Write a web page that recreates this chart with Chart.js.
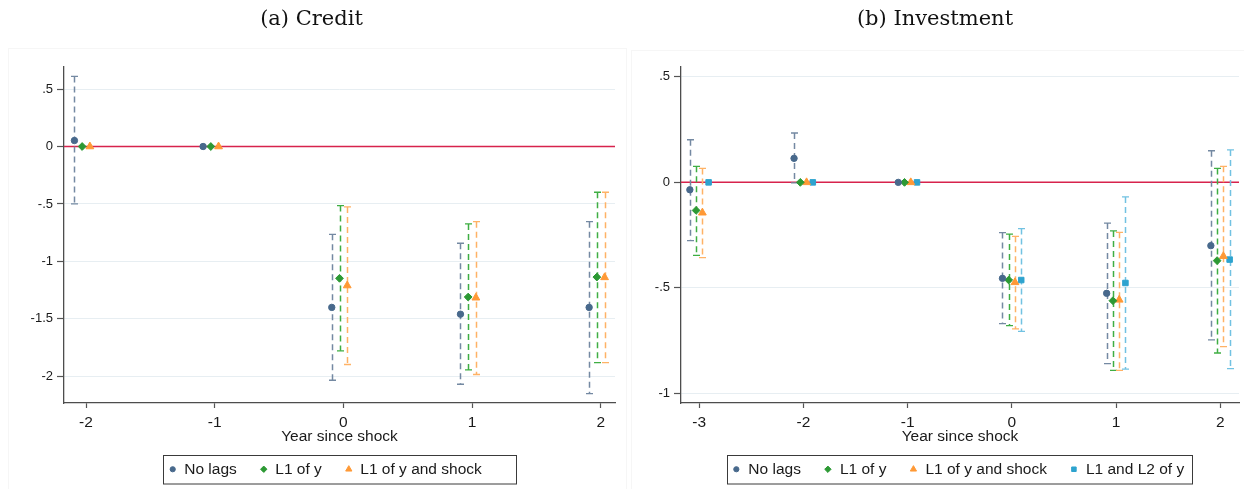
<!DOCTYPE html>
<html>
<head>
<meta charset="utf-8">
<title>Credit and investment responses</title>
<script src="https://cdn.jsdelivr.net/npm/chart.js@4.4.0/dist/chart.umd.min.js"></script>
<style>
  html, body { margin: 0; padding: 0; background: #fff; overflow: hidden; }
  body { width: 1244px; height: 489px; position: relative; }
  .frame { position: absolute; border: 1px solid #f6f6f6; border-bottom: none; }
  canvas { position: absolute; top: 0; }
</style>
</head>
<body>
<div class="frame" style="left:8px; top:48px; width:617px; height:445px;"></div>
<div class="frame" style="left:631px; top:50px; width:620px; height:445px;"></div>
<canvas id="credit-chart" width="619" height="489" style="left:8px"></canvas>
<canvas id="investment-chart" width="624" height="489" style="left:631px"></canvas>
<script>
// Years since shock
const creditYears = [-2, -1, 0, 1, 2];
const investYears = [-3, -2, -1, 0, 1, 2];

// Tick values / labels
const creditXTicks = [-2, -1, 0, 1, 2];
const creditYTicks = [0.5, 0, -0.5, -1, -1.5, -2];
const creditYTickLabels = ['.5', '0', '-.5', '-1', '-1.5', '-2'];
const investXTicks = [-3, -2, -1, 0, 1, 2];
const investYTicks = [0.5, 0, -0.5, -1];
const investYTickLabels = ['.5', '0', '-.5', '-1'];

const seriesNames = ['No lags', 'L1 of y', 'L1 of y and shock', 'L1 and L2 of y'];

// (a) Credit - point estimates and 95% bands
const creditNoLags      = [0.052, 0, -1.40, -1.459, -1.40];
const creditNoLagsLow   = [-0.50, null, -2.034, -2.069, -2.15];
const creditNoLagsHigh  = [0.61, null, -0.764, -0.842, -0.654];
const creditL1y         = [0, 0, -1.147, -1.31, -1.136];
const creditL1yLow      = [null, null, -1.778, -1.944, -1.88];
const creditL1yHigh     = [null, null, -0.514, -0.674, -0.398];
const creditL1yShock     = [0, 0, -1.21, -1.316, -1.139];
const creditL1yShockLow  = [null, null, -1.897, -1.984, -1.88];
const creditL1yShockHigh = [null, null, -0.526, -0.654, -0.398];

// (b) Investment
const investNoLags      = [-0.035, 0.114, 0, -0.455, -0.526, -0.30];
const investNoLagsLow   = [-0.276, -0.002, null, -0.67, -0.859, -0.747];
const investNoLagsHigh  = [0.202, 0.234, null, -0.238, -0.193, 0.15];
const investL1y         = [-0.133, 0, 0, -0.463, -0.561, -0.371];
const investL1yLow      = [-0.346, null, null, -0.679, -0.891, -0.809];
const investL1yHigh     = [0.076, null, null, -0.245, -0.23, 0.066];
const investL1yShock     = [-0.144, 0, 0, -0.474, -0.557, -0.35];
const investL1yShockLow  = [-0.357, null, null, -0.695, -0.891, -0.779];
const investL1yShockHigh = [0.066, null, null, -0.256, -0.237, 0.076];
const investL1L2y       = [0, 0, 0, -0.463, -0.477, -0.366];
const investL1L2yLow    = [null, null, null, -0.706, -0.885, -0.883];
const investL1L2yHigh   = [null, null, null, -0.219, -0.069, 0.154];

// marker look for each specification (dodge = horizontal shift around the year)
const seriesStyles = [
    { pointStyle: 'circle',   radius: 3.2, legendRadius: 2.6, color: '#48698c', ci: '#7489a2', dodge: -0.09 },
    { pointStyle: 'rectRot',  radius: 3.9, legendRadius: 3.2, color: '#2c9934', ci: '#3fae43', dodge: -0.03 },
    { pointStyle: 'triangle', radius: 4.5, legendRadius: 3.6, color: '#ff9936', ci: '#ffb266', dodge: 0.03 },
    { pointStyle: 'rect',     radius: 3.9, legendRadius: 3.2, color: '#2ea3cf', ci: '#72c2e2', dodge: 0.09 }
];

const TEXT_FONT = '"Liberation Sans", Arial, sans-serif';

function makeDatasets(years, series) {
    return series.map((s, i) => {
        const st = seriesStyles[i];
        return {
            label: seriesNames[i],
            data: years.map((yr, j) => ({ x: yr + st.dodge, y: s.est[j] })),
            ciLow: s.low,
            ciHigh: s.high,
            ciColor: st.ci,
            styleIndex: i,
            showLine: false,
            pointStyle: st.pointStyle,
            pointRadius: st.radius,
            pointBackgroundColor: st.color,
            pointBorderColor: st.color,
            pointBorderWidth: 1
        };
    });
}

// zero reference line + dashed confidence bands with caps
const errorBarPlugin = {
    id: 'errorBars',
    beforeDatasetsDraw(chart) {
        const { ctx, chartArea, scales: { x, y } } = chart;
        ctx.save();
        const y0 = y.getPixelForValue(0);
        ctx.strokeStyle = '#d7234d';
        ctx.lineWidth = 1.5;
        ctx.beginPath();
        ctx.moveTo(chartArea.left, y0);
        ctx.lineTo(chartArea.right, y0);
        ctx.stroke();

        chart.data.datasets.forEach(ds => {
            ds.data.forEach((pt, j) => {
                const lo = ds.ciLow[j];
                const hi = ds.ciHigh[j];
                if (lo == null || hi == null) return;
                const px = Math.round(x.getPixelForValue(pt.x)) + 0.5;
                const pLo = y.getPixelForValue(lo);
                const pHi = y.getPixelForValue(hi);
                ctx.strokeStyle = ds.ciColor;
                ctx.lineWidth = 1.5;
                ctx.setLineDash([6, 4]);
                ctx.beginPath();
                ctx.moveTo(px, pHi);
                ctx.lineTo(px, pLo);
                ctx.stroke();
                ctx.setLineDash([]);
                ctx.lineWidth = 1.3;
                ctx.beginPath();
                ctx.moveTo(px - 3.5, pHi);
                ctx.lineTo(px + 3.5, pHi);
                ctx.moveTo(px - 3.5, pLo);
                ctx.lineTo(px + 3.5, pLo);
                ctx.stroke();
            });
        });
        ctx.restore();
    }
};

// Stata-style boxed legend centred under the plot region
function boxedLegend(opts) {
    return {
        id: 'boxedLegend',
        afterDraw(chart) {
            const { ctx, chartArea } = chart;
            const datasets = chart.data.datasets;
            ctx.save();
            ctx.font = '15.5px ' + TEXT_FONT;
            const widths = datasets.map(ds => ctx.measureText(ds.label).width);
            let total = opts.padLeft + opts.padRight + opts.itemGap * (datasets.length - 1);
            widths.forEach(w => { total += opts.textGap + w; });
            const left = (chartArea.left + chartArea.right) / 2 - total / 2;
            const midY = opts.top + opts.height / 2;

            ctx.strokeStyle = '#3a3a3a';
            ctx.lineWidth = 1;
            ctx.strokeRect(Math.round(left) + 0.5, opts.top + 0.5, Math.round(total), opts.height);

            let cx = left + opts.padLeft;
            datasets.forEach((ds, i) => {
                const st = seriesStyles[ds.styleIndex];
                ctx.fillStyle = st.color;
                ctx.strokeStyle = st.color;
                Chart.helpers.drawPoint(ctx, {
                    pointStyle: st.pointStyle, radius: st.legendRadius, rotation: 0, borderWidth: 1
                }, cx, midY);
                ctx.fillStyle = '#1a1a1a';
                ctx.textBaseline = 'middle';
                ctx.textAlign = 'left';
                ctx.fillText(ds.label, cx + opts.textGap, midY);
                cx += opts.textGap + widths[i] + opts.itemGap;
            });
            ctx.restore();
        }
    };
}

function buildPanel(canvasId, cfg) {
    const ctx = document.getElementById(canvasId).getContext('2d');
    return new Chart(ctx, {
        type: 'scatter',
        data: { datasets: makeDatasets(cfg.years, cfg.series) },
        options: {
            responsive: false,
            animation: false,
            events: [],
            layout: { padding: { top: 0, left: 0, right: cfg.padRight, bottom: 43 } },
            plugins: {
                legend: { display: false },
                tooltip: { enabled: false },
                title: {
                    display: true,
                    text: cfg.title,
                    color: '#111',
                    font: { family: '"DejaVu Serif", serif', size: 21, weight: 'normal' },
                    padding: { top: 7.4, bottom: 34.4 }
                }
            },
            scales: {
                x: {
                    type: 'linear',
                    min: cfg.xMin,
                    max: cfg.xMax,
                    afterBuildTicks: scale => { scale.ticks = cfg.xTicks.map(v => ({ value: v })); },
                    afterFit: scale => { scale.height = 43; },
                    ticks: {
                        autoSkip: false,
                        maxRotation: 0,
                        padding: 5,
                        color: '#1a1a1a',
                        font: { family: TEXT_FONT, size: 15.5 },
                        callback: v => String(v)
                    },
                    grid: { drawOnChartArea: false, drawTicks: true, tickLength: 5, tickColor: '#555', tickWidth: 1.2 },
                    border: { color: '#4d4d4d', width: 1.3 },
                    title: {
                        display: true,
                        text: 'Year since shock',
                        color: '#1a1a1a',
                        font: { family: TEXT_FONT, size: 15.5 },
                        padding: { top: 0, bottom: 0 }
                    }
                },
                y: {
                    type: 'linear',
                    min: cfg.yMin,
                    max: cfg.yMax,
                    afterBuildTicks: scale => { scale.ticks = cfg.yTicks.map(v => ({ value: v })); },
                    afterFit: scale => { scale.width = cfg.yWidth; },
                    ticks: {
                        autoSkip: false,
                        padding: 4,
                        color: '#1a1a1a',
                        font: { family: TEXT_FONT, size: 13 },
                        callback: (v, i) => cfg.yLabels[i]
                    },
                    grid: { color: '#e7eef2', lineWidth: 1, tickLength: 7, tickColor: '#555', tickWidth: 1.2 },
                    border: { color: '#4d4d4d', width: 1.3 }
                }
            }
        },
        plugins: [errorBarPlugin, boxedLegend(cfg.legend)]
    });
}

buildPanel('credit-chart', {
    title: '(a) Credit',
    years: creditYears,
    series: [
        { est: creditNoLags, low: creditNoLagsLow, high: creditNoLagsHigh },
        { est: creditL1y, low: creditL1yLow, high: creditL1yHigh },
        { est: creditL1yShock, low: creditL1yShockLow, high: creditL1yShockHigh }
    ],
    xMin: -2.171, xMax: 2.111, xTicks: creditXTicks,
    yMin: -2.232, yMax: 0.692, yTicks: creditYTicks, yLabels: creditYTickLabels,
    yWidth: 56, padRight: 12,
    legend: { top: 455, height: 28.5, padLeft: 9.5, padRight: 34, textGap: 11.5, itemGap: 27 }
});

buildPanel('investment-chart', {
    title: '(b) Investment',
    years: investYears,
    series: [
        { est: investNoLags, low: investNoLagsLow, high: investNoLagsHigh },
        { est: investL1y, low: investL1yLow, high: investL1yHigh },
        { est: investL1yShock, low: investL1yShockLow, high: investL1yShockHigh },
        { est: investL1L2y, low: investL1L2yLow, high: investL1L2yHigh }
    ],
    xMin: -3.175, xMax: 2.18, xTicks: investXTicks,
    yMin: -1.046, yMax: 0.547, yTicks: investYTicks, yLabels: investYTickLabels,
    yWidth: 50, padRight: 16,
    legend: { top: 455, height: 28.5, padLeft: 9, padRight: 8.5, textGap: 12, itemGap: 27 }
});
</script>
</body>
</html>
